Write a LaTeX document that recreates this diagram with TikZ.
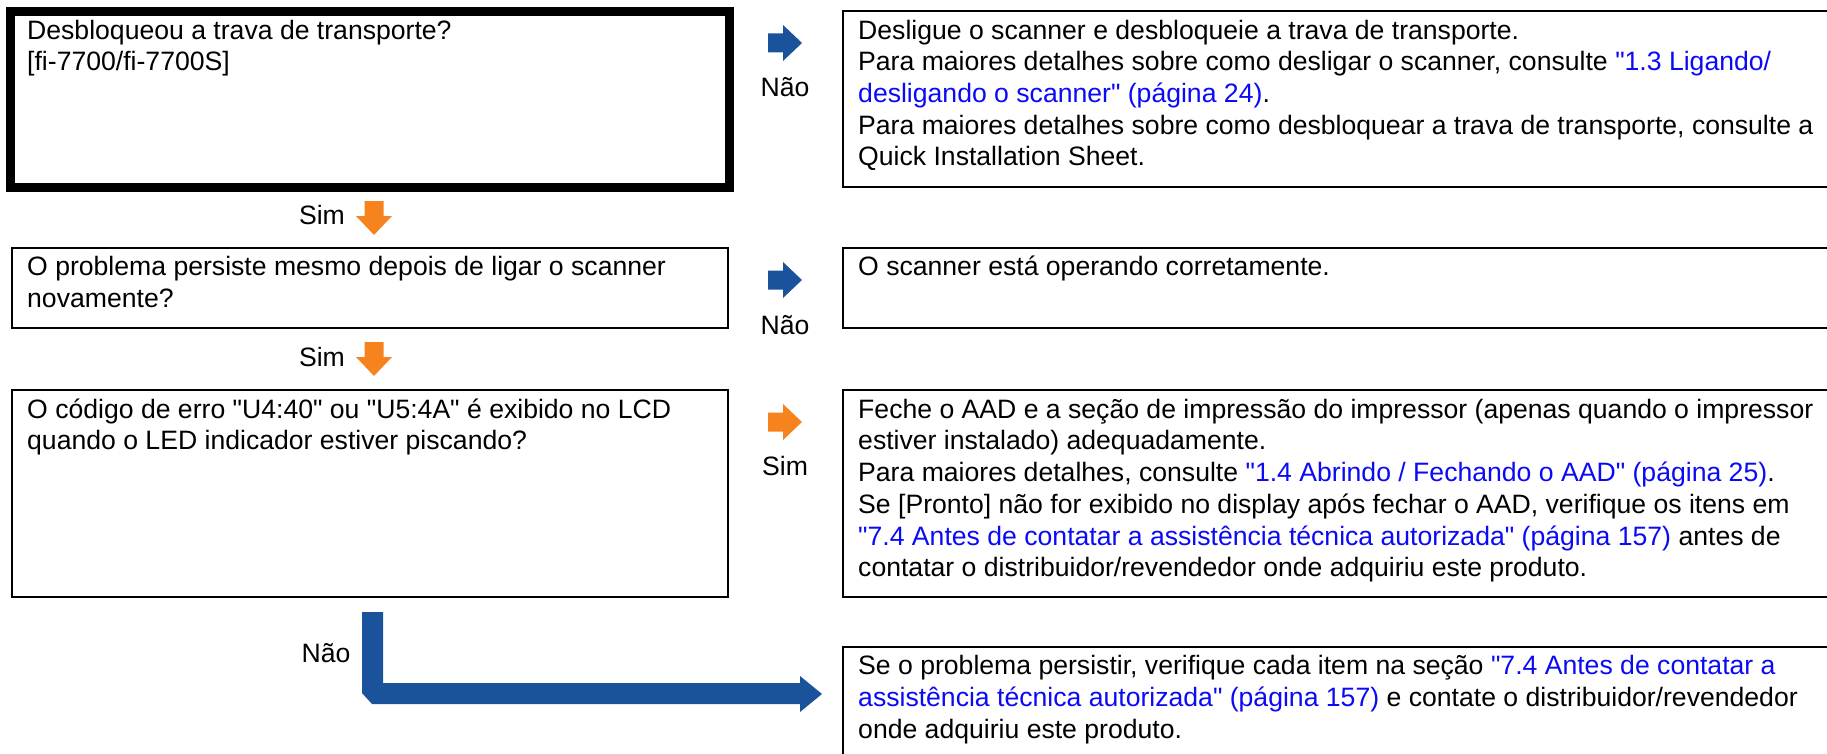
\documentclass[tikz,border=0pt]{standalone}
\usepackage{fontspec}
\setmainfont{Liberation Sans}[Ligatures=TeXOff]
\definecolor{fblue}{RGB}{27,82,156}
\definecolor{forange}{RGB}{247,131,31}
\definecolor{lnk}{RGB}{10,10,245}
\newcommand\lk[1]{\textcolor{lnk}{#1}}
\newcommand\mystrut{\rule{0pt}{24pt}}
\begin{document}
\begin{tikzpicture}[x=1pt,y=-1pt,
  thinbox/.style={draw=black, line width=2.2pt, inner sep=0pt, outer sep=0pt, anchor=north west},
  thickbox/.style={draw=black, line width=9pt, inner sep=0pt, outer sep=0pt, anchor=north west},
  txt/.style={anchor=north west, inner sep=0pt, align=left, font=\fontsize{26.6}{31.7}\selectfont},
  lbl/.style={anchor=base, inner sep=0pt, font=\fontsize{26.6}{31.7}\selectfont},
  rarr/.pic={\fill[pic actions] (0,-9.5)--(15,-9.5)--(15,-18)--(34,0)--(15,18)--(15,9.5)--(0,9.5)--cycle;}
]
\clip (0,0) rectangle (1827,754);
% boxes
\node[thickbox, minimum width=718.5pt, minimum height=176pt] (q1) at (10.5,11.5) {};
\node[thinbox, minimum width=1002pt, minimum height=176pt] (a1) at (843,11) {};
\node[thinbox, minimum width=716pt, minimum height=80pt] (q2) at (12,248) {};
\node[thinbox, minimum width=1002pt, minimum height=80pt] (a2) at (843,248) {};
\node[thinbox, minimum width=716pt, minimum height=207pt] (q3) at (12,390) {};
\node[thinbox, minimum width=1002pt, minimum height=207pt] (a3) at (843,390) {};
\node[thinbox, minimum width=1002pt, minimum height=130pt] (a4) at (843,647) {};
% texts
\node[txt] (t1) at (27,15) {\mystrut Desbloqueou a trava de transporte?\\{}[fi-7700/fi-7700S]};
\node[txt] (t2) at (858,15) {\mystrut Desligue o scanner e desbloqueie a trava de transporte.\\
Para maiores detalhes sobre como desligar o scanner, consulte \lk{"1.3 Ligando/}\\
\lk{desligando o scanner" (página 24)}.\\
Para maiores detalhes sobre como desbloquear a trava de transporte, consulte a\\
Quick Installation Sheet.};
\node[txt] (t3) at (27,251.5) {\mystrut O problema persiste mesmo depois de ligar o scanner\\novamente?};
\node[txt] (t4) at (858,251.5) {\mystrut O scanner está operando corretamente.};
\node[txt] (t5) at (27,394) {\mystrut O código de erro "U4:40" ou "U5:4A" é exibido no LCD\\quando o LED indicador estiver piscando?};
\node[txt] (t6) at (858,394) {\mystrut Feche o AAD e a seção de impressão do impressor (apenas quando o impressor\\
estiver instalado) adequadamente.\\
Para maiores detalhes, consulte \lk{"1.4 Abrindo / Fechando o AAD" (página 25)}.\\
Se [Pronto] não for exibido no display após fechar o AAD, verifique os itens em\\
\lk{"7.4 Antes de contatar a assistência técnica autorizada" (página 157)} antes de\\
contatar o distribuidor/revendedor onde adquiriu este produto.};
\node[txt] (t7) at (858,650.5) {\mystrut Se o problema persistir, verifique cada item na seção \lk{"7.4 Antes de contatar a}\\
\lk{assistência técnica autorizada" (página 157)} e contate o distribuidor/revendedor\\
onde adquiriu este produto.};
% arrows
\pic[fill=fblue] at (768,43) {rarr};
\pic[fill=fblue] at (768,280) {rarr};
\pic[fill=forange] at (768,422) {rarr};
\pic[fill=forange, rotate=-90] at (374,201) {rarr};
\pic[fill=forange, rotate=-90] at (374,342) {rarr};
\fill[fblue] (362,612) -- (383,612) -- (383,683) -- (800,683) -- (800,676) -- (822,694) -- (800,712) -- (800,704) -- (372,704) -- (362,693) -- cycle;
% labels
\node[lbl] (n1) at (785,97) {Não};
\node[lbl] (n2) at (785,334) {Não};
\node[lbl] (s3) at (785,475) {Sim};
\node[lbl] (s1) at (322,224) {Sim};
\node[lbl] (s2) at (322,366) {Sim};
\node[lbl] (n4) at (326,662) {Não};
\end{tikzpicture}
\end{document}
